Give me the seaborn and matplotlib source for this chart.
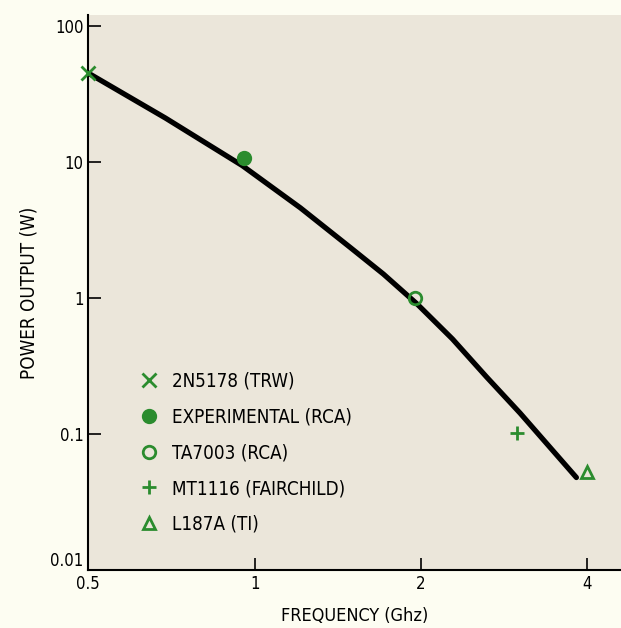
import matplotlib.pyplot as plt
import seaborn as sns
from matplotlib.ticker import FixedLocator, FixedFormatter, NullLocator

# fitted curve
curve_freq = [0.5, 0.69, 0.95, 1.21, 1.49, 1.71, 1.97, 2.28, 2.63, 3.02, 3.46, 3.82]
curve_power = [45, 21, 9.4, 4.6, 2.35, 1.5, 0.9, 0.5, 0.262, 0.143, 0.076, 0.048]

# individual devices
devices = ["2N5178 (TRW)", "EXPERIMENTAL (RCA)", "TA7003 (RCA)",
           "MT1116 (FAIRCHILD)", "L187A (TI)"]
dev_freq = [0.5, 0.955, 1.95, 2.98, 4.0]
dev_power = [45, 10.7, 1.0, 0.102, 0.053]
dev_marker = ["x", "o", "o", "+", "^"]
dev_filled = [True, True, False, True, False]

xticks = [0.5, 1, 2, 4]
xticklabels = ["0.5", "1", "2", "4"]
yticks = [0.01, 0.1, 1, 10, 100]
yticklabels = ["0.01", "0.1", "1", "10", "100"]

sns.set_style("ticks")
plt.rcParams["font.family"] = ["DejaVu Sans"]
plt.rcParams["font.stretch"] = "condensed"
plt.rcParams["text.color"] = "black"

green = "#2b8c2e"
fig = plt.figure(figsize=(6.21, 6.28), dpi=100, facecolor="#fdfdf2")
ax = fig.add_axes([0.142, 0.092, 0.858, 0.884])
ax.set_facecolor("#ebe6da")

sns.lineplot(x=curve_freq, y=curve_power, sort=False, color="black",
             linewidth=3.8, ax=ax, zorder=3)

for name, f, p, m, filled in zip(devices, dev_freq, dev_power, dev_marker, dev_filled):
    ms = 9 if m in ("o", "^") else 10
    ax.plot([f], [p], linestyle="none", marker=m, markersize=ms,
            markerfacecolor=green if filled else "none",
            markeredgecolor=green, markeredgewidth=2,
            label=name, clip_on=False, zorder=4)

ax.set_xscale("log")
ax.set_yscale("log")
ax.set_xlim(0.5, 4.6)
ax.set_ylim(0.01, 120)

ax.xaxis.set_major_locator(FixedLocator(xticks))
ax.xaxis.set_major_formatter(FixedFormatter(xticklabels))
ax.xaxis.set_minor_locator(NullLocator())
ax.yaxis.set_major_locator(FixedLocator(yticks))
ax.yaxis.set_major_formatter(FixedFormatter(yticklabels))
ax.yaxis.set_minor_locator(NullLocator())
ax.tick_params(direction="in", length=9, width=1.2, labelsize=12,
               colors="black", labelcolor="black")
# lift the bottom y label so it clears the "0.5"
ax.get_yticklabels()[0].set_va("bottom")

for s in ["top", "right"]:
    ax.spines[s].set_visible(False)
for s in ["left", "bottom"]:
    ax.spines[s].set_linewidth(1.5)
    ax.spines[s].set_color("black")

ax.set_xlabel("FREQUENCY (Ghz)", fontsize=13, labelpad=10, color="black")
ax.set_ylabel("POWER OUTPUT (W)", fontsize=13.5, labelpad=8, color="black")

leg = ax.legend(loc="lower left", bbox_to_anchor=(0.065, 0.035), frameon=False,
                fontsize=13.5, handlelength=1.0, handletextpad=0.7,
                labelspacing=0.9, labelcolor="black")

fig.savefig("out.png", dpi=100, facecolor=fig.get_facecolor())
